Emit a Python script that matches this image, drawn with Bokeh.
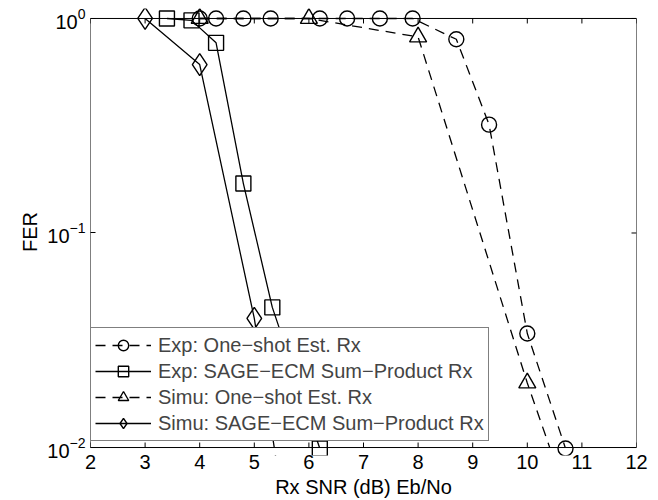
import math
from bokeh.plotting import figure
from bokeh.models import FixedTicker, Legend, LegendItem, Range1d, LogTickFormatter
from bokeh.embed import file_html
from bokeh.resources import INLINE

# ---------------- data ----------------
x_ticks = [2, 3, 4, 5, 6, 7, 8, 9, 10, 11, 12]
y_ticks = [0.01, 0.1, 1.0]
x_label = "Rx SNR (dB) Eb/No"
y_label = "FER"

series_labels = [
    "Exp: One\u2212shot Est. Rx",
    "Exp: SAGE\u2212ECM Sum\u2212Product Rx",
    "Simu: One\u2212shot Est. Rx",
    "Simu: SAGE\u2212ECM Sum\u2212Product Rx",
]

exp_oneshot_x = [4.0, 4.3, 4.8, 5.3, 6.2, 6.7, 7.3, 7.9, 8.7, 9.3, 10.0, 10.7]
exp_oneshot_y = [1.0, 1.0, 1.0, 1.0, 1.0, 1.0, 1.0, 1.0, 0.80, 0.32, 0.034, 0.0099]

exp_sage_x = [3.4, 3.85, 4.3, 4.8, 5.33, 6.2]
exp_sage_y = [1.0, 0.98, 0.77, 0.17, 0.045, 0.0099]

simu_oneshot_x = [4.0, 6.0, 8.0, 10.0, 11.0]
simu_oneshot_y = [1.0, 1.0, 0.82, 0.020, 0.0037]

simu_sage_x = [3.0, 4.0, 5.0, 5.5]
simu_sage_y = [1.0, 0.61, 0.040, 0.006]

# ---------------- layout / style ----------------
FONT = "Liberation Sans"
FS = "20px"
W, H = 658, 500
LEFT, RIGHT, TOP, BOTTOM = 90, 22, 18, 52   # inner axes box margins
PAD_T, PAD_B = 10, 8                          # extra frame so edge markers are not clipped
TICK = 5

inner_h = H - TOP - BOTTOM
ylo, yhi = math.log10(y_ticks[0]), math.log10(y_ticks[-1])
px_dec = (yhi - ylo) / inner_h
y_start, y_end = 10 ** (ylo - PAD_B * px_dec), 10 ** (yhi + PAD_T * px_dec)
x0, x1 = x_ticks[0], x_ticks[-1]
y0, y1 = y_ticks[0], y_ticks[-1]

p = figure(width=W, height=H,
           x_range=Range1d(x0, x1),
           y_range=Range1d(y_start, y_end),
           y_axis_type="log", output_backend="svg", toolbar_location=None,
           min_border_left=LEFT, min_border_right=RIGHT,
           min_border_top=TOP - PAD_T, min_border_bottom=BOTTOM - PAD_B)
p.outline_line_color = None
p.xgrid.visible = False
p.ygrid.visible = False
p.background_fill_color = "white"
p.border_fill_color = "white"

# bottom axis (labels only, ticks drawn at the box edge below)
xa = p.xaxis[0]
xa.ticker = FixedTicker(ticks=x_ticks)
xa.axis_line_color = None
xa.major_tick_line_color = None
xa.major_tick_in = 0
xa.major_tick_out = 0
xa.minor_tick_line_color = None
xa.major_label_standoff = -1
xa.major_label_text_font = FONT
xa.major_label_text_font_size = FS
xa.major_label_text_color = "black"
xa.axis_label = x_label
xa.axis_label_text_font = FONT
xa.axis_label_text_font_size = FS
xa.axis_label_text_font_style = "normal"
xa.axis_label_text_color = "black"
xa.axis_label_standoff = 4

# left axis
ya = p.yaxis[0]
ya.ticker = FixedTicker(ticks=y_ticks)
ya.formatter = LogTickFormatter()
ya.axis_line_color = None
ya.major_tick_in = TICK
ya.major_tick_out = 0
ya.minor_tick_line_color = None
ya.major_label_standoff = 5
ya.major_label_text_font = FONT
ya.major_label_text_font_size = FS
ya.major_label_text_color = "black"
ya.axis_label = y_label
ya.axis_label_text_font = FONT
ya.axis_label_text_font_size = FS
ya.axis_label_text_font_style = "normal"
ya.axis_label_text_color = "black"
ya.axis_label_standoff = 3

LW = 1.3
DASH = "10 7"

series = [
    (exp_oneshot_x, exp_oneshot_y, DASH, "circle", 15),
    (exp_sage_x, exp_sage_y, "solid", "square", 15),
    (simu_oneshot_x, simu_oneshot_y, DASH, "triangle", 17),
    (simu_sage_x, simu_sage_y, "solid", "diamond", 22),
]

line_rs = []
for xs, ys, dash, marker, size in series:
    line_rs.append(p.line(xs, ys, line_color="black", line_width=LW, line_dash=dash))

# white mask under the lower axis limit (lines continue beyond the axes)
p.quad(left=x0, right=x1, bottom=y_start, top=y0, fill_color="white", line_color=None)
# axes box
p.quad(left=x0, right=x1, bottom=y0, top=y1, fill_color=None, line_color="black", line_width=1)

# inward tick marks on bottom, top and right edges of the box
n = len(x_ticks)
p.ray(x=x_ticks, y=[y0] * n, length=TICK, length_units="screen", angle=math.pi / 2,
      line_color="black", line_width=1)
p.ray(x=x_ticks, y=[y1] * n, length=TICK, length_units="screen", angle=-math.pi / 2,
      line_color="black", line_width=1)
m = len(y_ticks)
p.ray(x=[x1] * m, y=y_ticks, length=TICK, length_units="screen", angle=math.pi,
      line_color="black", line_width=1)

marker_rs = []
for xs, ys, dash, marker, size in series:
    marker_rs.append(p.scatter(xs, ys, marker=marker, size=size, fill_color=None,
                               line_color="black", line_width=1.4))

items = [LegendItem(label=lab, renderers=[lr, mr])
         for lab, lr, mr in zip(series_labels, line_rs, marker_rs)]
legend = Legend(items=items, location=(0, 14), margin=0, padding=4, spacing=0,
                label_height=26, glyph_height=26, glyph_width=56, label_standoff=7,
                label_text_font=FONT, label_text_font_size=FS,
                border_line_color="black", border_line_width=1,
                background_fill_color="white", background_fill_alpha=1.0)
p.add_layout(legend)

open("out.html", "w").write(file_html(p, INLINE))
